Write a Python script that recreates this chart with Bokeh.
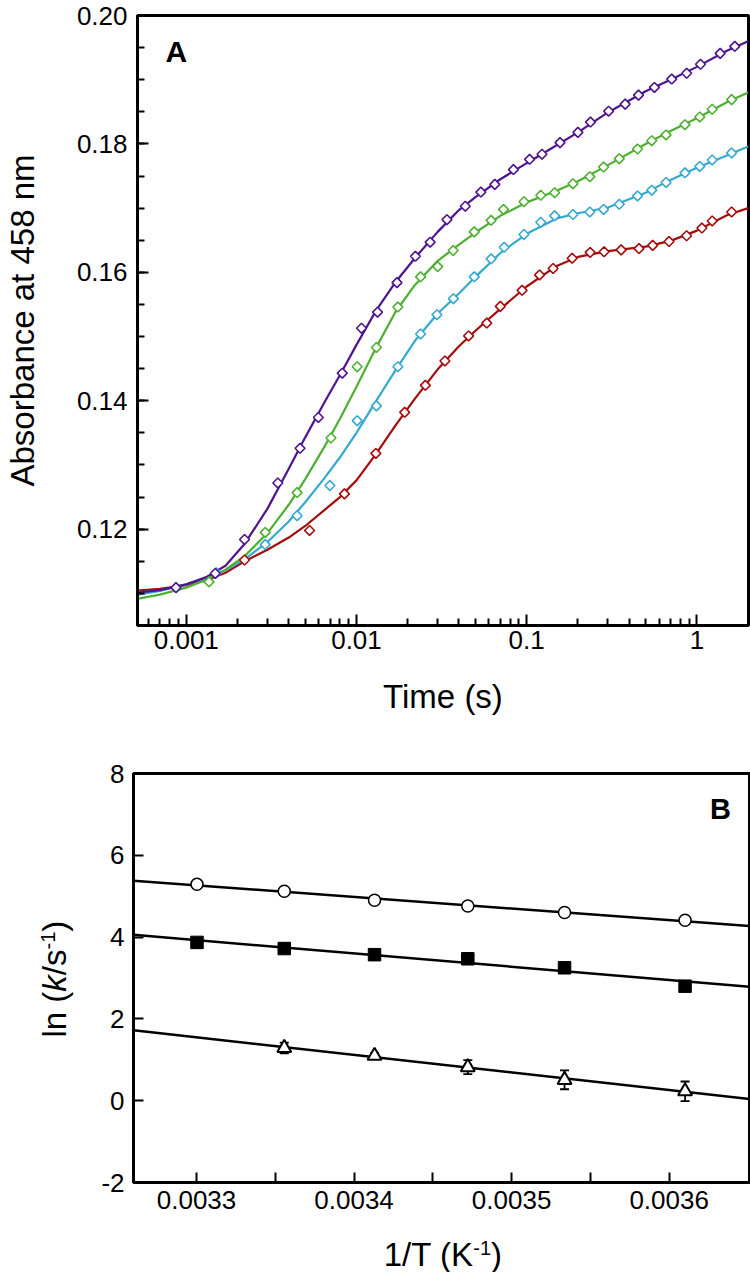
import numpy as np
from bokeh.plotting import figure
from bokeh.layouts import column, row
from bokeh.models import FixedTicker, Label, Range1d, Whisker, ColumnDataSource, TeeHead
from bokeh.embed import file_html
from bokeh.resources import INLINE

FONT = "Liberation Sans"

# ---------------- Panel A data (time in s, absorbance at 458 nm) ----------------
purple_t = [0.00087, 0.00148, 0.0022, 0.00345, 0.00466, 0.00597, 0.00825, 0.0107, 0.0133, 0.0173,
            0.0222, 0.0271, 0.034, 0.0436, 0.0538, 0.065, 0.0836, 0.104, 0.123, 0.157, 0.20, 0.237,
            0.303, 0.379, 0.454, 0.563, 0.711, 0.871, 1.05, 1.37, 1.67]
purple_a = [0.1109, 0.1131, 0.1184, 0.1272, 0.1326, 0.1374, 0.1443, 0.1513, 0.1538, 0.1584,
            0.1625, 0.1647, 0.1682, 0.1703, 0.1725, 0.1737, 0.1760, 0.1776, 0.1784, 0.1802, 0.1818, 0.1834,
            0.1851, 0.1862, 0.1876, 0.1888, 0.1901, 0.1910, 0.1924, 0.1941, 0.1952]

green_t = [0.00136, 0.00291, 0.00448, 0.00708, 0.0101, 0.0131, 0.0175, 0.0238, 0.030, 0.037,
           0.0492, 0.0618, 0.0731, 0.0964, 0.121, 0.146, 0.187, 0.235, 0.283, 0.350, 0.448,
           0.543, 0.659, 0.851, 1.04, 1.23, 1.60]
green_a = [0.1118, 0.1195, 0.1257, 0.1342, 0.1453, 0.1483, 0.1546, 0.1593, 0.1609, 0.1634,
           0.1663, 0.1681, 0.1698, 0.1710, 0.1720, 0.1724, 0.1738, 0.1749, 0.1764, 0.1777, 0.1792,
           0.1805, 0.1814, 0.1830, 0.1842, 0.1854, 0.1869]

cyan_t = [0.0015, 0.00291, 0.00448, 0.00698, 0.0101, 0.0131, 0.0175, 0.0238, 0.0297, 0.0371,
          0.0492, 0.0618, 0.0738, 0.0964, 0.121, 0.146, 0.187, 0.235, 0.283, 0.350, 0.448,
          0.543, 0.659, 0.851, 1.04, 1.23, 1.60]
cyan_a = [0.1132, 0.1176, 0.1221, 0.1268, 0.1369, 0.1392, 0.1453, 0.1504, 0.1534, 0.1559,
          0.1593, 0.1621, 0.1639, 0.1659, 0.1678, 0.1688, 0.1690, 0.1694, 0.1698, 0.1706, 0.1719,
          0.1728, 0.1740, 0.1755, 0.1765, 0.1775, 0.1786]

red_t = [0.0022, 0.0053, 0.0085, 0.013, 0.0192, 0.0254, 0.0331, 0.0456, 0.0583, 0.070,
         0.094, 0.119, 0.143, 0.185, 0.236, 0.285, 0.359, 0.457, 0.55, 0.686, 0.87, 1.07, 1.23, 1.60]
red_a = [0.1152, 0.1198, 0.1255, 0.1318, 0.1382, 0.1424, 0.1462, 0.1501, 0.1521, 0.1547,
         0.1572, 0.1596, 0.1606, 0.1622, 0.1631, 0.1632, 0.1635, 0.1637, 0.1642, 0.1648, 0.1657, 0.1669, 0.1680, 0.1694]

# fitted curves
fit_t = [0.0005, 0.0007, 0.001, 0.0013, 0.0017, 0.0022, 0.003, 0.004, 0.005, 0.0065, 0.008, 0.01,
         0.013, 0.017, 0.022, 0.03, 0.04, 0.05, 0.07, 0.1, 0.15, 0.2, 0.3, 0.5, 0.7, 1.0, 1.5, 2.0]
purple_fit = [0.1101, 0.1105, 0.1114, 0.1125, 0.1143, 0.1177, 0.1232, 0.1294, 0.1343, 0.1398, 0.1440, 0.1487,
              0.1540, 0.1585, 0.1622, 0.1663, 0.1697, 0.1717, 0.1745, 0.1770, 0.1798, 0.1818, 0.1849, 0.1882,
              0.1900, 0.1920, 0.1945, 0.1960]
green_fit = [0.1091, 0.1098, 0.1109, 0.1121, 0.1137, 0.1158, 0.1194, 0.1238, 0.1278, 0.1329, 0.1372, 0.1422,
             0.1482, 0.1539, 0.1580, 0.1618, 0.1643, 0.1662, 0.1688, 0.1709, 0.1727, 0.1742, 0.1767, 0.1800,
             0.1820, 0.1840, 0.1865, 0.1880]
cyan_fit = [0.1097, 0.1104, 0.1114, 0.1124, 0.1136, 0.1153, 0.1180, 0.1212, 0.1242, 0.1280, 0.1312, 0.1350,
            0.1399, 0.1448, 0.1493, 0.1536, 0.1567, 0.1593, 0.1630, 0.1660, 0.1684, 0.1692, 0.1701, 0.1724,
            0.1744, 0.1763, 0.1782, 0.1796]
red_fit = [0.1104, 0.1107, 0.1113, 0.1120, 0.1132, 0.1150, 0.1168, 0.1187, 0.1205, 0.1230, 0.1250, 0.1276,
           0.1317, 0.1362, 0.1403, 0.1449, 0.1485, 0.1509, 0.1543, 0.1578, 0.1610, 0.1624, 0.1633, 0.1640,
           0.1649, 0.1665, 0.1689, 0.1700]

a_xticks = [0.001, 0.01, 0.1, 1]
a_xlabels = ["0.001", "0.01", "0.1", "1"]
a_yticks = [0.12, 0.14, 0.16, 0.18, 0.20]
a_ylabels = ["0.12", "0.14", "0.16", "0.18", "0.20"]

# ---------------- Panel B data ----------------
inv_T = [0.0033003, 0.0033557, 0.0034130, 0.0034722, 0.0035336, 0.0036101]
lnk_circle = [5.29, 5.12, 4.90, 4.76, 4.60, 4.41]
lnk_square = [3.87, 3.72, 3.57, 3.47, 3.25, 2.80]
inv_T_tri = [0.0033557, 0.0034130, 0.0034722, 0.0035336, 0.0036101]
lnk_tri = [1.29, 1.10, 0.82, 0.51, 0.23]
lnk_tri_err = [0.13, 0.06, 0.17, 0.23, 0.24]

b_xticks = [0.0033, 0.0034, 0.0035, 0.0036]
b_xlabels = ["0.0033", "0.0034", "0.0035", "0.0036"]
b_xminor = [0.00335, 0.00345, 0.00355]
b_yticks = [-2, 0, 2, 4, 6, 8]
b_ylabels = ["-2", "0", "2", "4", "6", "8"]

COLORS = {"purple": "#4f1490", "green": "#4db030", "cyan": "#35a9cf", "red": "#a50d0d"}


def style_axes(p, tick_in, minor_in):
    p.outline_line_color = "black"
    p.outline_line_width = 3
    p.outline_line_alpha = 1
    p.xgrid.visible = False
    p.ygrid.visible = False
    p.background_fill_color = "white"
    p.border_fill_color = "white"
    for ax in p.axis:
        ax.axis_line_width = 3
        ax.axis_line_color = "black"
        ax.major_tick_in = tick_in
        ax.major_tick_out = 0
        ax.minor_tick_in = minor_in
        ax.minor_tick_out = 0
        ax.major_tick_line_width = 2
        ax.minor_tick_line_width = 2
        ax.major_tick_line_color = "black"
        ax.minor_tick_line_color = "black"
        ax.major_label_text_font = FONT
        ax.major_label_text_font_size = "26px"
        ax.major_label_text_color = "black"
        ax.axis_label_text_font = FONT
        ax.axis_label_text_font_size = "33px"
        ax.axis_label_text_font_style = "normal"
        ax.axis_label_text_color = "black"


def blank_fig(w, h, x_range, y_range):
    f = figure(width=w, height=h, x_range=x_range, y_range=y_range,
               x_axis_location=None, y_axis_location=None, title=None,
               output_backend="svg", toolbar_location=None,
               min_border=0, min_border_left=0, min_border_right=0, min_border_top=0, min_border_bottom=0)
    f.outline_line_color = None
    f.grid.visible = False
    f.background_fill_color = "white"
    f.border_fill_color = "white"
    return f


# ---------------- Panel A ----------------
pA = figure(width=750, height=728, x_axis_type="log",
            x_range=Range1d(0.000517, 2.01), y_range=Range1d(0.105, 0.20),
            output_backend="svg", toolbar_location=None,
            min_border_left=135, min_border_right=2, min_border_top=15, min_border_bottom=103)
style_axes(pA, 11, 7)

minor_x = [m * 10.0 ** e for e in range(-4, 1) for m in range(2, 10)]
pA.xaxis.ticker = FixedTicker(ticks=a_xticks, minor_ticks=minor_x)
pA.xaxis.major_label_overrides = dict(zip(a_xticks, a_xlabels))
pA.yaxis.ticker = FixedTicker(ticks=a_yticks, minor_ticks=[0.105 + 0.005 * i for i in range(20)])
pA.yaxis.major_label_overrides = dict(zip(a_yticks, a_ylabels))
pA.xaxis.axis_label = "Time (s)"
pA.yaxis.axis_label = "Absorbance at 458 nm"
pA.xaxis.major_label_standoff = 5
pA.xaxis.axis_label_standoff = 26
pA.yaxis.major_label_standoff = 10
pA.yaxis.axis_label_standoff = 33

series = [("red", red_t, red_a, red_fit), ("cyan", cyan_t, cyan_a, cyan_fit),
          ("green", green_t, green_a, green_fit), ("purple", purple_t, purple_a, purple_fit)]
for name, t, a, f in series:
    pA.line(fit_t, f, line_color=COLORS[name], line_width=2.2)
for name, t, a, f in series:
    pA.scatter(t, a, marker="square", angle=np.pi / 4, size=7, fill_color="white",
               line_color=COLORS[name], line_width=1.6)

pA.add_layout(Label(x=0.000754, y=0.1944, text="A", text_font=FONT, text_font_size="30px",
                    text_font_style="bold", text_color="black", text_baseline="alphabetic"))

# ---------------- Panel B ----------------
xr = Range1d(0.00326, 0.003651)
yr = Range1d(-2, 8)
pB = figure(width=662, height=500, x_range=xr, y_range=yr,
            output_backend="svg", toolbar_location=None,
            min_border_left=45, min_border_right=1, min_border_top=45, min_border_bottom=46)
style_axes(pB, 10, 10)
pB.xaxis.ticker = FixedTicker(ticks=b_xticks, minor_ticks=b_xminor)
pB.xaxis.major_label_overrides = dict(zip(b_xticks, b_xlabels))
pB.yaxis.ticker = FixedTicker(ticks=b_yticks, minor_ticks=[])
pB.yaxis.major_label_overrides = dict(zip(b_yticks, b_ylabels))
pB.xaxis.major_label_standoff = 8
pB.yaxis.major_label_standoff = 9

xline = [xr.start, xr.end]
for xs, ys in [(inv_T, lnk_circle), (inv_T, lnk_square), (inv_T_tri, lnk_tri)]:
    k, b = np.polyfit(xs, ys, 1)
    pB.line(xline, [k * xline[0] + b, k * xline[1] + b], line_color="black", line_width=2.5)

src = ColumnDataSource(dict(x=inv_T_tri,
                            lo=[v - e for v, e in zip(lnk_tri, lnk_tri_err)],
                            hi=[v + e for v, e in zip(lnk_tri, lnk_tri_err)]))
wh = Whisker(source=src, base="x", lower="lo", upper="hi", dimension="height",
             line_color="black", line_width=1.8, level="underlay",
             upper_head=TeeHead(size=9, line_width=1.8, line_color="black"),
             lower_head=TeeHead(size=9, line_width=1.8, line_color="black"))
pB.add_layout(wh)

pB.scatter(inv_T, lnk_circle, marker="circle", size=12, fill_color="white", line_color="black", line_width=1.5)
pB.scatter(inv_T, lnk_square, marker="square", size=12.5, fill_color="black", line_color="black")
pB.scatter(inv_T_tri, lnk_tri, marker="triangle", size=14, fill_color="white", line_color="black", line_width=2)

pB.add_layout(Label(x=0.003626, y=7.14, text="B", text_font=FONT, text_font_size="29px",
                    text_font_style="bold", text_color="black", text_baseline="alphabetic"))

# composed y label of panel B: ln (k/s^-1); strip shares the y scale of panel B
PX_PER_UNIT = 40.9
ylab = blank_fig(88, 500, Range1d(0, 88), yr)
ypieces = [("ln (", "normal", 33, 54, 45.8), ("k", "italic", 33, 54, 16.5), ("/s", "normal", 33, 54, 25.7),
           ("-1", "normal", 20, 47, 17.8), (")", "normal", 33, 54, 11.0)]
cur = 1.545
for txt, sty, fs, xx, w in ypieces:
    ylab.add_layout(Label(x=xx, y=cur, text=txt, angle=np.pi / 2,
                          text_font=FONT, text_font_size=f"{fs}px", text_font_style=sty, text_color="black",
                          text_align="left", text_baseline="alphabetic"))
    cur += w / PX_PER_UNIT

# composed x label of panel B: 1/T (K^-1); strip frame is aligned with the plot frames (135..748)
xlab = blank_fig(750, 44, Range1d(135, 748), Range1d(0, 44))
xpieces = [("1/T (K", 33, 18, 89.9), ("-1", 20, 25, 17.8), (")", 33, 18, 11.0)]
cur = 382
for txt, fs, yy, w in xpieces:
    xlab.add_layout(Label(x=cur, y=yy, text=txt,
                          text_font=FONT, text_font_size=f"{fs}px", text_color="black",
                          text_align="left", text_baseline="alphabetic"))
    cur += w

layout = column(pA, row(ylab, pB, spacing=0), xlab, spacing=0)
open("out.html", "w").write(file_html(layout, INLINE))
